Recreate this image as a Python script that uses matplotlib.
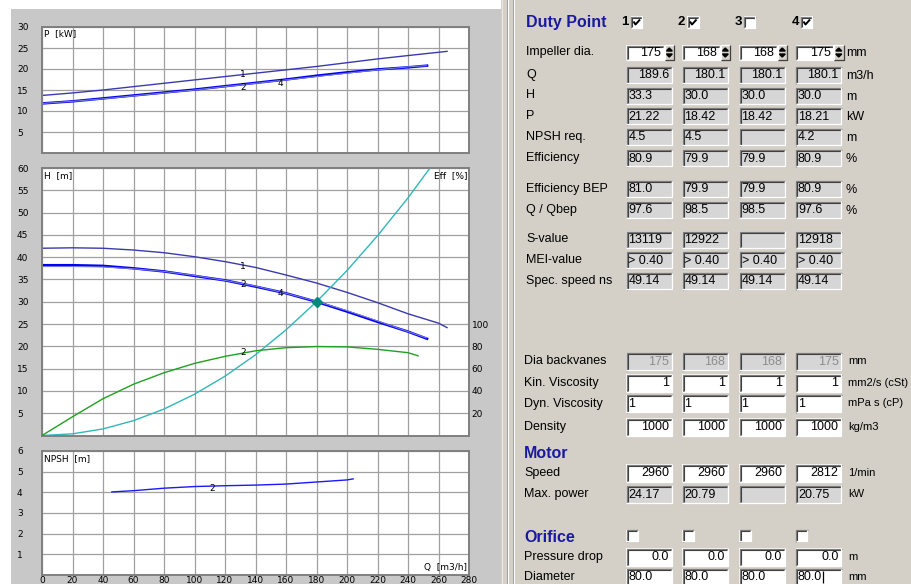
import numpy as np
import matplotlib.pyplot as plt
from matplotlib.patches import Rectangle, Polygon

W, HPX = 911, 584

# ---- curves (Q in m3/h) ----
q_h1 = [0, 20, 40, 60, 80, 100, 120, 140, 160, 180, 200, 220, 240, 260, 265.6]
h_1 = [42.0, 42.1, 42.0, 41.6, 41.0, 40.1, 39.0, 37.7, 36.0, 34.2, 32.1, 29.8, 27.3, 25.2, 24.2]
q_h2 = [0, 20, 40, 60, 80, 100, 120, 140, 160, 180, 200, 220, 240, 252.5]
h_2 = [38.2, 38.2, 38.05, 37.5, 36.8, 35.8, 34.8, 33.4, 31.9, 30.0, 27.8, 25.5, 23.3, 21.7]
q_h4 = [0, 20, 40, 60, 80, 100, 120, 140, 160, 180, 200, 220, 240, 252]
h_4 = [37.9, 37.9, 37.8, 37.4, 36.8, 35.9, 34.8, 33.5, 31.9, 30.1, 28.0, 25.7, 23.3, 21.9]
q_eff = [0, 20, 40, 60, 80, 100, 120, 140, 160, 180, 200, 220, 240, 246.6]
eff_2 = [0, 16.8, 33.0, 46.0, 56.3, 64.7, 71.0, 76.0, 78.8, 79.8, 79.5, 77.3, 74.3, 71.5]
q_sys = [0, 20, 40, 60, 80, 100, 120, 140, 160, 180, 200, 220, 240, 254.4]
h_sys = [0, 0.37, 1.48, 3.33, 5.93, 9.26, 13.3, 18.1, 23.7, 30.0, 37.0, 44.8, 53.3, 60.0]
q_p1 = [0, 20, 40, 60, 80, 100, 120, 140, 160, 180, 200, 220, 240, 265.6]
p_1 = [13.7, 14.3, 15.0, 15.8, 16.6, 17.4, 18.2, 19.0, 19.8, 20.6, 21.5, 22.4, 23.2, 24.2]
q_p2 = [0, 20, 40, 60, 80, 100, 120, 140, 160, 180, 200, 220, 240, 252.5]
p_2 = [11.8, 12.3, 13.0, 13.7, 14.4, 15.1, 15.9, 16.7, 17.5, 18.4, 19.2, 19.9, 20.4, 20.8]
q_p4 = [0, 20, 40, 60, 80, 100, 120, 140, 160, 180, 200, 220, 240, 252]
p_4 = [11.8, 12.3, 12.9, 13.6, 14.3, 15.0, 15.8, 16.6, 17.4, 18.2, 19.0, 19.8, 20.5, 20.8]
q_npsh = [45.8, 60, 80, 100, 120, 140, 160, 180, 200, 204]
npsh_2 = [4.02, 4.08, 4.2, 4.28, 4.32, 4.35, 4.4, 4.5, 4.6, 4.65]
duty_q, duty_h = 180.1, 30.0

# ---- panel values ----
imp_dia = ['175', '168', '168', '175']
rows_upper = [
    ('Q', ['189.6', '180.1', '180.1', '180.1'], 'm3/h', 'right'),
    ('H', ['33.3', '30.0', '30.0', '30.0'], 'm', 'left'),
    ('P', ['21.22', '18.42', '18.42', '18.21'], 'kW', 'left'),
    ('NPSH req.', ['4.5', '4.5', '', '4.2'], 'm', 'left'),
    ('Efficiency', ['80.9', '79.9', '79.9', '80.9'], '%', 'left'),
    ('Efficiency BEP', ['81.0', '79.9', '79.9', '80.9'], '%', 'left'),
    ('Q / Qbep', ['97.6', '98.5', '98.5', '97.6'], '%', 'left'),
    ('S-value', ['13119', '12922', '', '12918'], '', 'left'),
    ('MEI-value', ['> 0.40', '> 0.40', '> 0.40', '> 0.40'], '', 'left'),
    ('Spec. speed ns', ['49.14', '49.14', '49.14', '49.14'], '', 'left'),
]
rows_lower = [
    ('Dia backvanes', ['175', '168', '168', '175'], 'mm', 'right', 'dis'),
    ('Kin. Viscosity', ['1', '1', '1', '1'], 'mm2/s (cSt)', 'right', 'white'),
    ('Dyn. Viscosity', ['1', '1', '1', '1'], 'mPa s (cP)', 'left', 'white'),
    ('Density', ['1000', '1000', '1000', '1000'], 'kg/m3', 'right', 'white'),
    ('Speed', ['2960', '2960', '2960', '2812'], '1/min', 'right', 'white'),
    ('Max. power', ['24.17', '20.79', '', '20.75'], 'kW', 'left', 'gray'),
    ('Pressure drop', ['0.0', '0.0', '0.0', '0.0'], 'm', 'right', 'white'),
    ('Diameter', ['80.0', '80.0', '80.0', '80.0'], 'mm', 'left', 'white'),
]
duty_checked = [True, True, False, True]

GUI = 'Liberation Sans'
PLT_FONT = 'DejaVu Sans'
NAVY = '#1a1aa0'

fig = plt.figure(figsize=(9.11, 5.84), dpi=100)
fig.patch.set_facecolor('white')
bg = fig.add_axes([0, 0, 1, 1])
bg.set_xlim(0, W)
bg.set_ylim(HPX, 0)
bg.axis('off')

bg.add_patch(Rectangle((11, 9), 490, 580, facecolor='#c8c8c8', edgecolor='none'))
bg.add_patch(Rectangle((501, 0), 410, 584, facecolor='#d4d0c8', edgecolor='none'))
for xx, cc in [(501.5, '#e8e8e8'), (506.5, '#a0a0a0'), (507.5, 'white'), (512.5, '#a0a0a0'), (513.5, 'white')]:
    bg.plot([xx, xx], [0, HPX], color=cc, lw=0.72)


def px_axes(left, top, right, bottom):
    return fig.add_axes([left / W, 1 - bottom / HPX, (right - left) / W, (bottom - top) / HPX])


def style(ax, ymax, ystep, xlabels=False):
    ax.set_facecolor('white')
    ax.set_xlim(0, 280)
    ax.set_ylim(0, ymax)
    ax.set_xticks(np.arange(0, 281, 20))
    ticks = np.arange(ystep, ymax + ystep / 2, ystep)
    ax.set_yticks(ticks)
    ax.set_yticklabels(['%g' % t for t in ticks], fontsize=6.5, family=PLT_FONT)
    ax.tick_params(axis='y', length=0, pad=18)
    for lbl in ax.get_yticklabels():
        lbl.set_horizontalalignment('left')
    if xlabels:
        ax.set_xticklabels([str(v) for v in range(0, 281, 20)], fontsize=6.5, family=PLT_FONT)
        ax.tick_params(axis='x', length=0, pad=0.8)
    else:
        ax.tick_params(axis='x', length=0, labelbottom=False)
    ax.grid(True, color='#a0a0a0', lw=0.9)
    ax.set_axisbelow(True)
    for s in ax.spines.values():
        s.set_color('#808080')
        s.set_linewidth(1.4)


def curve_label(ax, x, y, s):
    ax.text(x, y, s, fontsize=6.5, family=PLT_FONT, ha='center', va='center', zorder=5)


C1, C2, C4 = '#3a3ab0', '#0000f0', '#7a7ae0'

# ---- P panel ----
axp = px_axes(42, 27, 469, 153)
style(axp, 30, 5)
axp.plot(q_p1, p_1, color=C1, lw=1.0)
axp.plot(q_p2, p_2, color=C2, lw=1.8)
axp.plot(q_p4, p_4, color=C4, lw=0.8)
curve_label(axp, 132, 18.8, '1')
curve_label(axp, 132, 15.6, '2')
curve_label(axp, 156, 16.5, '4')
axp.text(1, 30 - 7 * 5 / 21, 'P  [kW]', fontsize=6.5, family=PLT_FONT, va='center')

# ---- H / Eff panel ----
axh = px_axes(42, 168, 469, 435.5)
style(axh, 60, 5)
axh.plot(q_h1, h_1, color=C1, lw=1.0)
axh.plot(q_h2, h_2, color=C2, lw=1.8)
axh.plot(q_h4, h_4, color=C4, lw=0.8)
axh.plot(q_sys, h_sys, color='#30b8b8', lw=1.0)
axh.plot([duty_q], [duty_h], marker='D', ms=5, color='#008878', zorder=6)
curve_label(axh, 132, 37.9, '1')
curve_label(axh, 132, 33.8, '2')
curve_label(axh, 156, 31.8, '4')
axh.text(1, 60 - 7.5 * 5 / 22.3, 'H  [m]', fontsize=6.5, family=PLT_FONT, va='center')
axh.text(279, 60 - 7.5 * 5 / 22.3, 'Eff  [%]', fontsize=6.5, family=PLT_FONT, va='center', ha='right')

axe = axh.twinx()
axe.set_ylim(0, 240)
axe.set_yticks([20, 40, 60, 80, 100])
axe.set_yticklabels(['20', '40', '60', '80', '100'], fontsize=6.5, family=PLT_FONT)
axe.tick_params(axis='y', length=0, pad=2)
for s in axe.spines.values():
    s.set_visible(False)
axe.plot(q_eff, eff_2, color='#22a022', lw=1.0)
axe.text(132, 74.5, '2', fontsize=6.5, family=PLT_FONT, ha='center', va='center')

# ---- NPSH panel ----
axn = px_axes(42, 451, 469, 575)
style(axn, 6, 1, xlabels=True)
axn.plot(q_npsh, npsh_2, color='#1a1aff', lw=1.0)
curve_label(axn, 111.5, 4.18, '2')
axn.text(1, 6 - 7.5 / 20.7, 'NPSH  [m]', fontsize=6.5, family=PLT_FONT, va='center')
axn.text(279, 8 / 20.7, 'Q  [m3/h]', fontsize=6.5, family=PLT_FONT, va='center', ha='right')


# ---- right hand GUI panel ----
def line(xs, ys, c, lw=0.72):
    bg.plot(xs, ys, color=c, lw=lw, solid_capstyle='butt')


def sunken(x, y, w, h, fill):
    bg.add_patch(Rectangle((x, y), w, h, facecolor=fill, edgecolor='none'))
    line([x + 0.5, x + 0.5, x + w], [y + h, y + 0.5, y + 0.5], '#808080', 0.9)
    line([x + 1.5, x + 1.5, x + w - 1], [y + h - 1, y + 1.5, y + 1.5], '#404040', 0.8)
    line([x, x + w - 0.5, x + w - 0.5], [y + h - 0.5, y + h - 0.5, y], 'white', 0.9)


def field(x, y, w, h, txt, fill, align, color='black'):
    sunken(x, y, w, h, fill)
    ty = min(y + h / 2 + 0.5, 577)
    if align == 'right':
        bg.text(x + w - 3, ty, txt, ha='right', va='center', fontsize=9, family=GUI, color=color)
    else:
        bg.text(x + 2.5, ty, txt, ha='left', va='center', fontsize=9, family=GUI, color=color)


def checkbox(x, y, checked):
    sunken(x, y, 12, 12, 'white')
    if checked:
        line([x + 3, x + 5, x + 9.5], [y + 5.5, y + 8.5, y + 3.5], 'black', 1.4)


def spinner(x, y, w, h):
    bg.add_patch(Rectangle((x, y), w, h, facecolor='#d4d0c8', edgecolor='none'))
    line([x, x, x + w], [y + h, y, y], 'white', 0.9)
    line([x, x + w, x + w], [y + h, y + h, y], '#404040', 0.9)
    cx = x + w / 2
    bg.add_patch(Polygon([[cx - 3, y + h / 2 - 1.5], [cx + 3, y + h / 2 - 1.5], [cx, y + h / 2 - 4.5]], color='black'))
    bg.add_patch(Polygon([[cx - 3, y + h / 2 + 1.5], [cx + 3, y + h / 2 + 1.5], [cx, y + h / 2 + 4.5]], color='black'))


def label(x, y, s, size=9, **kw):
    bg.text(x, y, s, va='center', fontsize=size, family=GUI, **kw)


cols = [626, 682, 739, 795.5]
bw = 46

bg.text(526, 22, 'Duty Point', fontsize=11.5, fontweight='bold', family=GUI, color=NAVY, va='center')
for i, xc in enumerate([621.5, 678, 734.5, 791.5]):
    bg.text(xc, 22, str(i + 1), fontsize=9.5, fontweight='bold', family=GUI, va='center')
    checkbox(xc + 9, 16, duty_checked[i])

label(526, 52, 'Impeller dia.')
for i, x in enumerate(cols):
    field(x, 45, 38, 15, imp_dia[i], 'white', 'right')
    spinner(x + 38.5, 45, 9.5, 15)
label(846, 53, 'mm')

ys_upper = [75, 95.5, 116, 137, 158, 189, 209.5, 239.5, 260, 281]
for (name, vals, unit, al), yc in zip(rows_upper, ys_upper):
    label(526, yc, name)
    for i, x in enumerate(cols):
        field(x, yc - 8.5, bw, 17, vals[i], '#d6d6d6', al)
    if unit:
        label(846, yc + 1, unit)

ys_lower = [361.5, 383, 403.5, 427, 473, 494, 557, 577.5]
for (name, vals, unit, al, kind), yc in zip(rows_lower, ys_lower):
    label(524, min(yc, 576.5), name)
    for i, x in enumerate(cols):
        if kind == 'dis':
            field(x, yc - 9, bw, 18, vals[i], '#d6d6d6', al, color='#8c8c8c')
        elif kind == 'gray':
            field(x, yc - 9, bw, 18, vals[i], '#d6d6d6', al)
        else:
            field(x, yc - 9, bw, 18, vals[i], 'white', al)
    label(848, min(yc, 576.5), unit, size=8.0)
line([822.5, 822.5], [571, 583], 'black', 0.9)

bg.text(524, 453, 'Motor', fontsize=11.5, fontweight='bold', family=GUI, color=NAVY, va='center')
bg.text(524, 537, 'Orifice', fontsize=11.5, fontweight='bold', family=GUI, color=NAVY, va='center')
for x in cols:
    checkbox(x, 529.5, False)

fig.savefig('out.png', dpi=100)
